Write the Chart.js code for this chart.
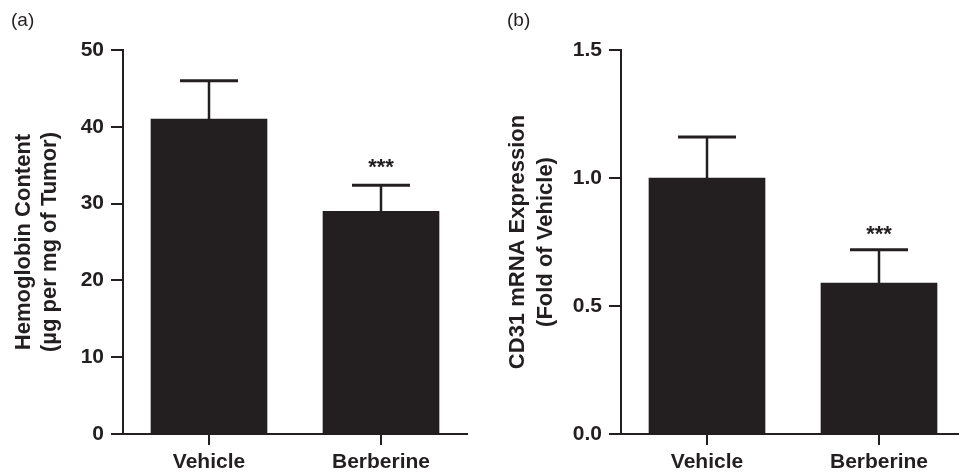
<!DOCTYPE html>
<html>
<head>
<meta charset="utf-8">
<script src="https://cdn.jsdelivr.net/npm/chart.js@4.4.1/dist/chart.umd.min.js"></script>
<style>
  html, body { margin: 0; padding: 0; background: #fff; overflow: hidden; }
  #wrap { position: relative; width: 959px; height: 474px; overflow: hidden; }
  #cA { position: absolute; left: 0; top: 0; }
  #cB { position: absolute; left: 480px; top: 0; }
</style>
</head>
<body>
<div id="wrap">
  <canvas id="cA" width="480" height="474"></canvas>
  <canvas id="cB" width="486" height="474"></canvas>
</div>
<script>
// ---- data ----
const categories = ['Vehicle', 'Berberine'];
const panelLabels = ['(a)', '(b)'];

const hemoglobin = [41, 29];
const hemoglobinErr = [5, 3.4];
const hemoglobinSig = ['', '***'];
const hemoglobinTicks = [0, 10, 20, 30, 40, 50];
const hemoglobinTitle = ['Hemoglobin Content', '(\u00b5g per mg of Tumor)'];

const cd31 = [1.0, 0.59];
const cd31Err = [0.16, 0.13];
const cd31Sig = ['', '***'];
const cd31Ticks = [0, 0.5, 1.0, 1.5];
const cd31Title = ['CD31 mRNA Expression', '(Fold of Vehicle)'];

// ---- style ----
const INK = '#231f20';
const FAMILY = '"Liberation Sans", Arial, Helvetica, sans-serif';
Chart.defaults.font.family = FAMILY;
Chart.defaults.color = INK;

const annotatePlugin = {
  id: 'annotate',
  afterDatasetsDraw(chart, args, opts) {
    const ctx = chart.ctx;
    const y = chart.scales.y;
    const meta = chart.getDatasetMeta(0);
    const ds = chart.data.datasets[0];
    ctx.save();
    ctx.strokeStyle = INK;
    ctx.fillStyle = INK;
    meta.data.forEach((bar, i) => {
      const v = ds.data[i];
      const e = opts.errors[i];
      const yTop = y.getPixelForValue(v + e);
      const yVal = y.getPixelForValue(v);
      // stem
      ctx.lineWidth = 2.5;
      ctx.beginPath();
      ctx.moveTo(bar.x, yVal);
      ctx.lineTo(bar.x, yTop);
      ctx.stroke();
      // cap
      ctx.lineWidth = 3;
      ctx.beginPath();
      ctx.moveTo(bar.x - 29, yTop);
      ctx.lineTo(bar.x + 29, yTop);
      ctx.stroke();
      // significance
      const s = opts.sig[i];
      if (s) {
        ctx.font = 'bold 22px ' + FAMILY;
        ctx.textAlign = 'center';
        ctx.textBaseline = 'alphabetic';
        ctx.fillText(s, bar.x, yTop - opts.sigGap);
      }
    });
    // panel label
    ctx.font = '19px ' + FAMILY;
    ctx.textAlign = 'left';
    ctx.textBaseline = 'alphabetic';
    ctx.fillText(opts.label, opts.labelX, 26);
    ctx.restore();
  }
};

function makeChart(id, values, errors, sig, ticks, title, cfg) {
  return new Chart(document.getElementById(id), {
    type: 'bar',
    data: {
      labels: categories,
      datasets: [{
        data: values,
        backgroundColor: INK,
        borderWidth: 0,
        barThickness: 116
      }]
    },
    options: {
      responsive: false,
      animation: false,
      events: [],
      layout: { padding: { top: 50, bottom: 0, left: 0, right: cfg.padRight } },
      plugins: {
        legend: { display: false },
        tooltip: { enabled: false },
        annotate: { errors: errors, sig: sig, sigGap: cfg.sigGap, label: cfg.label, labelX: cfg.labelX }
      },
      scales: {
        x: {
          offset: true,
          grid: { display: true, offset: false, drawOnChartArea: false, drawTicks: true, tickLength: 11, color: INK, lineWidth: 2 },
          border: { display: true, color: INK, width: 2 },
          ticks: { color: INK, padding: 5, font: { size: 21, weight: 'bold' }, maxRotation: 0 },
          afterFit(scale) { scale.height = 40; }
        },
        y: {
          min: ticks[0],
          max: ticks[ticks.length - 1],
          afterBuildTicks(scale) { scale.ticks = ticks.map(v => ({ value: v })); },
          grid: { display: true, drawOnChartArea: false, drawTicks: true, tickLength: 12, color: INK, lineWidth: 2 },
          border: { display: true, color: INK, width: 2 },
          ticks: {
            color: INK, padding: 7, font: { size: 21, weight: 'bold' },
            callback: (v) => cfg.decimals ? Number(v).toFixed(cfg.decimals) : String(v)
          },
          title: {
            display: true,
            text: title,
            color: INK,
            font: { size: 22, weight: 'bold', lineHeight: cfg.titleLH },
            padding: { top: cfg.titlePad, bottom: 0 }
          },
          afterFit(scale) { scale.width = cfg.yWidth; }
        }
      }
    },
    plugins: [annotatePlugin]
  });
}

makeChart('cA', hemoglobin, hemoglobinErr, hemoglobinSig, hemoglobinTicks, hemoglobinTitle,
  { padRight: 13, yWidth: 123, decimals: 0, titleLH: 1.18, titlePad: 11, sigGap: 11, label: panelLabels[0], labelX: 11 });
makeChart('cB', cd31, cd31Err, cd31Sig, cd31Ticks, cd31Title,
  { padRight: 1, yWidth: 141, decimals: 1, titleLH: 1.27, titlePad: 24, sigGap: 9, label: panelLabels[1], labelX: 27 });
</script>
</body>
</html>
